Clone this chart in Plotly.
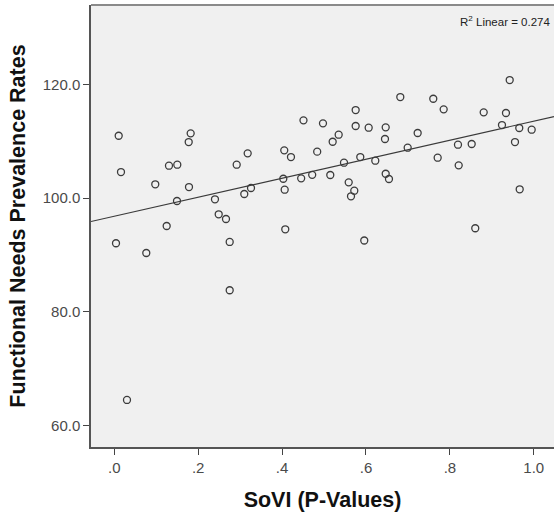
import numpy as np
import plotly.graph_objects as go

sovi = [0.0105, 0.016, 0.0977, 0.1304, 0.1502, 0.1774, 0.1821, 0.1781, 0.1495, 0.1249,
        0.0041, 0.2400, 0.2489, 0.2663, 0.2751, 0.2918, 0.3180, 0.3099, 0.3259, 0.4052,
        0.4212, 0.4029, 0.4062, 0.4076, 0.4510, 0.4455, 0.4718, 0.4837, 0.4975, 0.5349,
        0.5206, 0.5149, 0.5476, 0.5754, 0.5754, 0.6064, 0.6470, 0.6453, 0.5864, 0.6222,
        0.5588, 0.5721, 0.5643, 0.6470, 0.6548, 0.6818, 0.7232, 0.6994, 0.7604, 0.7852,
        0.7709, 0.8193, 0.8520, 0.8210, 0.8806, 0.9426, 0.9337, 0.9242, 0.9654, 0.9950,
        0.9552, 0.9664, 0.8605, 0.5959, 0.0763, 0.2751, 0.0303]
prevalence = [110.99, 104.60, 102.44, 105.71, 105.89, 109.88, 111.41, 101.96, 99.50, 95.10,
              92.06, 99.80, 97.16, 96.33, 92.29, 105.89, 107.89, 100.73, 101.79, 108.42,
              107.24, 103.42, 101.49, 94.52, 113.70, 103.49, 104.11, 108.18, 113.17, 111.17,
              109.93, 104.08, 106.24, 115.51, 112.70, 112.40, 112.47, 110.41, 107.24, 106.59,
              102.79, 101.31, 100.33, 104.30, 103.37, 117.80, 111.47, 108.88, 117.50, 115.64,
              107.12, 109.41, 109.53, 105.78, 115.11, 120.79, 114.99, 112.87, 112.35, 112.05,
              109.88, 101.56, 94.70, 92.55, 90.35, 83.79, 64.48]

x_tickvals = [0.0, 0.2, 0.4, 0.6, 0.8, 1.0]
x_ticktext = [".0", ".2", ".4", ".6", ".8", "1.0"]
y_tickvals = [60, 80, 100, 120]
y_ticktext = ["60.0", "80.0", "100.0", "120.0"]
r2_label = "R<sup>2</sup> Linear = 0.274"

x_range = [-0.0555, 1.0482]
y_range = [56.2, 134.0]

slope, intercept = np.polyfit(sovi, prevalence, 1)
fit_x = np.array(x_range)
fit_y = intercept + slope * fit_x

font = "Liberation Sans, Arial, sans-serif"

fig = go.Figure()
fig.add_trace(go.Scatter(
    x=fit_x, y=fit_y, mode="lines",
    line=dict(color="#3a3a3a", width=1.1), hoverinfo="skip", showlegend=False))
fig.add_trace(go.Scatter(
    x=sovi, y=prevalence, mode="markers",
    marker=dict(symbol="circle-open", size=7, color="#3c3c3c", line=dict(width=1.3)),
    showlegend=False))

fig.update_layout(
    width=554, height=514,
    margin=dict(l=91, r=0, t=5, b=67),
    paper_bgcolor="white", plot_bgcolor="#f0f0f0",
    font=dict(family=font, color="#333333"),
    xaxis=dict(range=x_range, tickvals=x_tickvals, ticktext=x_ticktext,
               showgrid=False, zeroline=False, showline=True, linecolor="#555555", linewidth=1.5,
               ticks="outside", ticklen=6, tickwidth=1.3, tickcolor="#444444",
               tickfont=dict(size=15, color="#4a4a4a", family=font),
               title=dict(text="<b>SoVI (P-Values)</b>", font=dict(size=21.5, color="#111111", family=font),
                          standoff=17)),
    yaxis=dict(range=y_range, tickvals=y_tickvals, ticktext=y_ticktext,
               showgrid=False, zeroline=False, showline=True, linecolor="#555555", linewidth=1.5,
               ticks="outside", ticklen=6, tickwidth=1.3, tickcolor="#444444",
               tickfont=dict(size=15, color="#4a4a4a", family=font),
               title=dict(text="<b>Functional Needs Prevalence Rates</b>",
                          font=dict(size=21.5, color="#111111", family=font), standoff=11)),
    shapes=[dict(type="line", xref="paper", yref="paper", x0=0, x1=1, y0=1, y1=1,
                 line=dict(color="#8a8a8a", width=2))],
    annotations=[dict(text=r2_label, xref="paper", yref="paper", x=0.995, y=0.985,
                      xanchor="right", yanchor="top", showarrow=False,
                      font=dict(size=11.5, color="#222222", family=font))],
)

fig.write_html("out.html")
